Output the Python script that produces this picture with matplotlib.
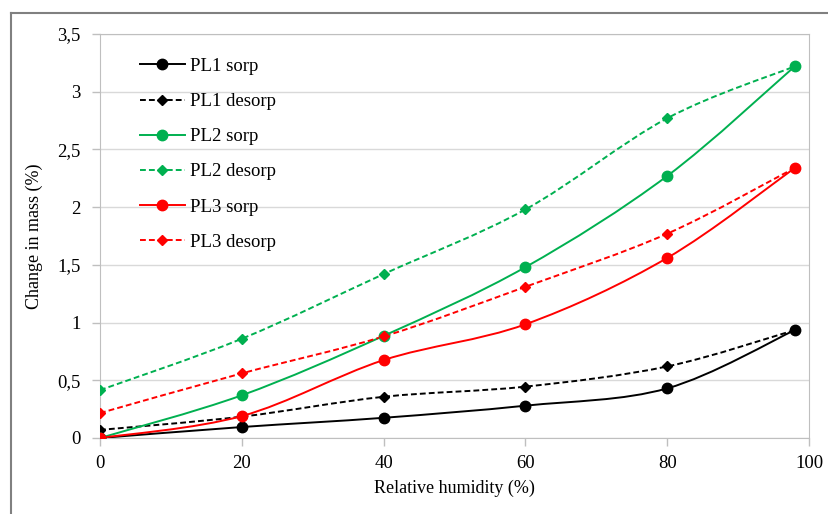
import numpy as np
import matplotlib
matplotlib.use("Agg")
import matplotlib.pyplot as plt
from matplotlib.path import Path
from matplotlib.patches import PathPatch
from matplotlib.lines import Line2D

plt.rcParams['font.family'] = ['Liberation Serif', 'DejaVu Serif']

# dati
rh = [0, 20, 40, 60, 80, 98]
pl1_sorp = [0.0, 0.095, 0.175, 0.28, 0.43, 0.935]
pl1_desorp = [0.07, 0.185, 0.357, 0.445, 0.62, 0.935]
pl2_sorp = [0.0, 0.37, 0.885, 1.48, 2.27, 3.22]
pl2_desorp = [0.415, 0.86, 1.42, 1.98, 2.77, 3.22]
pl3_sorp = [0.0, 0.19, 0.675, 0.985, 1.56, 2.34]
pl3_desorp = [0.216, 0.56, 0.88, 1.31, 1.77, 2.34]

GREEN = '#00B050'
RED = '#FF0000'

serie = [
    ('PL1 sorp', pl1_sorp, 'black', '-', 'o'),
    ('PL1 desorp', pl1_desorp, 'black', '--', 'D'),
    ('PL2 sorp', pl2_sorp, GREEN, '-', 'o'),
    ('PL2 desorp', pl2_desorp, GREEN, '--', 'D'),
    ('PL3 sorp', pl3_sorp, RED, '-', 'o'),
    ('PL3 desorp', pl3_desorp, RED, '--', 'D'),
]


def curva_smussata(x, y):
    """Path Bezier tipo Excel (Catmull-Rom) attraverso i punti"""
    pts = np.column_stack([x, y]).astype(float)
    n = len(pts)
    verts = [pts[0]]
    codes = [Path.MOVETO]
    for i in range(n - 1):
        p0 = pts[i - 1] if i > 0 else pts[i]
        p1 = pts[i]
        p2 = pts[i + 1]
        p3 = pts[i + 2] if i + 2 < n else pts[i + 1]
        c1 = p1 + (p2 - p0) / 6.0
        c2 = p2 - (p3 - p1) / 6.0
        verts += [c1, c2, p2]
        codes += [Path.CURVE4] * 3
    return Path(verts, codes)


fig = plt.figure(figsize=(8.29, 5.14), dpi=100)
ax = fig.add_axes([100 / 829, 1 - 438 / 514, 709 / 829, 404 / 514])

handles = []
for nome, vals, col, ls, mk in serie:
    dash = (3, 1.6) if ls == '--' else None
    patch = PathPatch(curva_smussata(rh, vals), facecolor='none', edgecolor=col,
                      lw=1.4, linestyle=(0, dash) if dash else '-', zorder=3)
    ax.add_patch(patch)
    ms = 7.5 if mk == 'o' else 5.5
    ax.plot(rh, vals, linestyle='none', marker=mk, color=col, ms=ms, zorder=4)
    handles.append(Line2D([], [], color=col, lw=1.4,
                          linestyle=(0, dash) if dash else '-',
                          marker=mk, ms=ms, label=nome))

ax.set_xlim(0, 100)
ax.set_ylim(0, 3.5)
ax.set_xticks([0, 20, 40, 60, 80, 100])
ax.set_yticks(np.arange(0, 3.51, 0.5))
ax.set_yticklabels(['0', '0,5', '1', '1,5', '2', '2,5', '3', '3,5'])
ax.grid(axis='y', color='#d9d9d9', lw=1)
ax.set_axisbelow(True)
for s in ax.spines.values():
    s.set_color('#bfbfbf')
ax.tick_params(colors='#bfbfbf', labelcolor='black', labelsize=13.5, length=6, width=1)
ax.tick_params(axis='x', pad=6)
ax.tick_params(axis='y', pad=8)
ax.set_xlabel('Relative humidity (%)', fontsize=13, labelpad=6)
ax.set_ylabel('Change in mass (%)', fontsize=13, labelpad=10)

leg = ax.legend(handles=handles, loc='upper left', frameon=False, fontsize=13.5,
                handlelength=2.4, labelspacing=0.96, borderaxespad=0.4,
                bbox_to_anchor=(0.035, 0.978), handletextpad=0.3)

# cornice esterna
fig.add_artist(Line2D([11 / 829, 11 / 829], [0, 1 - 13 / 514], color='#808080', lw=1.5))
fig.add_artist(Line2D([11 / 829, 1], [1 - 13 / 514, 1 - 13 / 514], color='#808080', lw=1.5))

fig.savefig('out.png', dpi=100)
